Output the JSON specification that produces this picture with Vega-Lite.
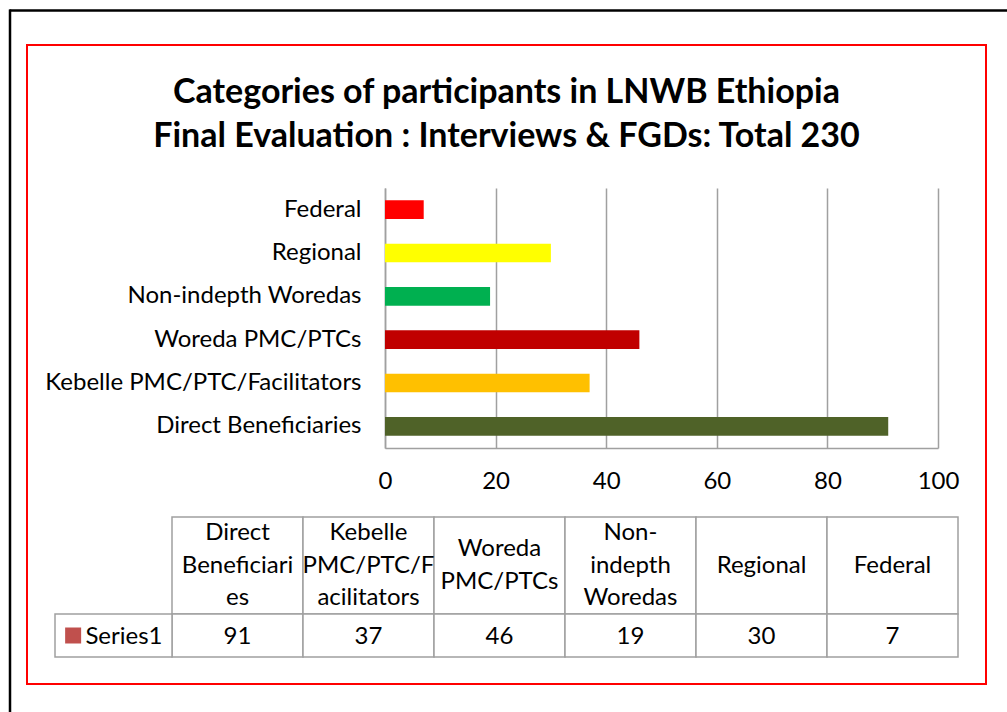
{
  "$schema": "https://vega.github.io/schema/vega-lite/v6.json",
  "width": 959,
  "height": 639,
  "autosize": "none",
  "padding": {"left": 27, "top": 45, "right": 21, "bottom": 28},
  "background": "white",
  "config": {
    "view": {"stroke": "#FF0000", "strokeWidth": 2},
    "font": "Lato",
    "axis": {"labelFont": "Lato"},
    "text": {"font": "Lato"}
  },
  "title": {
    "text": ["Categories of participants in LNWB Ethiopia", "Final Evaluation : Interviews & FGDs: Total 230"],
    "anchor": "middle",
    "frame": "group",
    "font": "Lato",
    "fontSize": 34,
    "fontWeight": "bold",
    "color": "#000000",
    "lineHeight": 44,
    "baseline": "top",
    "offset": -148
  },
  "datasets": {
    "cats": [
      {"category": "Direct Beneficiaries", "header": "Direct\nBeneficiari\nes", "value": 91},
      {"category": "Kebelle PMC/PTC/Facilitators", "header": "Kebelle\nPMC/PTC/F\nacilitators", "value": 37},
      {"category": "Woreda PMC/PTCs", "header": "Woreda\nPMC/PTCs", "value": 46},
      {"category": "Non-indepth Woredas", "header": "Non-\nindepth\nWoredas", "value": 19},
      {"category": "Regional", "header": "Regional", "value": 30},
      {"category": "Federal", "header": "Federal", "value": 7}
    ],
    "legend": [
      {"series": "Series1"}
    ]
  },
  "layer": [
    {
      "data": {"name": "legend"},
      "mark": {"type": "point", "opacity": 0},
      "encoding": {
        "x": {
          "datum": 0,
          "type": "quantitative",
          "scale": {"domain": [0, 1], "range": [-18, 995], "nice": false, "zero": false},
          "axis": {"orient": "top", "offset": 35, "domainColor": "#000000", "domainWidth": 2.5, "labels": false, "ticks": false, "grid": false, "title": null}
        },
        "y": {
          "datum": 0,
          "type": "quantitative",
          "scale": {"domain": [0, 1], "range": [-36, 680], "nice": false, "zero": false},
          "axis": {"orient": "left", "offset": 17.5, "domainColor": "#000000", "domainWidth": 2.5, "labels": false, "ticks": false, "grid": false, "title": null}
        }
      }
    },
    {
      "data": {"name": "cats"},
      "mark": {"type": "bar"},
      "encoding": {
        "y": {
          "field": "category",
          "type": "nominal",
          "scale": {
            "domain": ["Federal", "Regional", "Non-indepth Woredas", "Woreda PMC/PTCs", "Kebelle PMC/PTC/Facilitators", "Direct Beneficiaries"],
            "range": [143, 403],
            "paddingInner": 0.57,
            "paddingOuter": 0.285
          },
          "axis": {
            "orient": "left",
            "offset": -358,
            "title": null,
            "grid": false,
            "ticks": false,
            "domainColor": "#A0A0A0",
            "domainWidth": 1.5,
            "labelPadding": 24,
            "labelFontSize": 24,
            "labelColor": "#000000",
            "labelLimit": 0
          }
        },
        "x": {
          "field": "value",
          "type": "quantitative",
          "scale": {"domain": [0, 100], "range": [358, 911], "nice": false},
          "axis": {
            "orient": "top",
            "offset": -403,
            "values": [0, 20, 40, 60, 80, 100],
            "title": null,
            "grid": true,
            "gridColor": "#A0A0A0",
            "gridWidth": 1.5,
            "ticks": false,
            "domainColor": "#A0A0A0",
            "domainWidth": 1.5,
            "labelPadding": -33,
            "labelBaseline": "middle",
            "labelFontSize": 24,
            "labelColor": "#000000",
            "labelFlush": false
          }
        },
        "color": {
          "field": "category",
          "type": "nominal",
          "scale": {
            "domain": ["Federal", "Regional", "Non-indepth Woredas", "Woreda PMC/PTCs", "Kebelle PMC/PTC/Facilitators", "Direct Beneficiaries"],
            "range": ["#FF0000", "#FFFF00", "#00B050", "#C00000", "#FFC000", "#4F6228"]
          },
          "legend": null
        }
      }
    },
    {
      "data": {"name": "cats"},
      "encoding": {
        "x": {
          "field": "category",
          "type": "nominal",
          "scale": {
            "domain": ["Direct Beneficiaries", "Kebelle PMC/PTC/Facilitators", "Woreda PMC/PTCs", "Non-indepth Woredas", "Regional", "Federal"],
            "range": [145, 931],
            "paddingInner": 0,
            "paddingOuter": 0
          },
          "axis": null
        },
        "y": {
          "datum": "header",
          "type": "nominal",
          "scale": {"domain": ["header"], "range": [472, 569], "paddingInner": 0, "paddingOuter": 0},
          "axis": null
        }
      },
      "layer": [
        {"mark": {"type": "rect", "fill": "white", "stroke": "#A0A0A0", "strokeWidth": 1.5}},
        {
          "mark": {
            "type": "text",
            "lineBreak": "\n",
            "fontSize": 24,
            "lineHeight": 32.5,
            "color": "#000000",
            "align": "center",
            "baseline": "middle",
            "dy": {"expr": "-(length(split(datum.header, '\\n')) - 1) * 16.25"}
          },
          "encoding": {"text": {"field": "header"}}
        }
      ]
    },
    {
      "data": {"name": "cats"},
      "encoding": {
        "x": {
          "field": "category",
          "type": "nominal",
          "scale": {
            "domain": ["Direct Beneficiaries", "Kebelle PMC/PTC/Facilitators", "Woreda PMC/PTCs", "Non-indepth Woredas", "Regional", "Federal"],
            "range": [145, 931],
            "paddingInner": 0,
            "paddingOuter": 0
          },
          "axis": null
        },
        "y": {
          "datum": "row",
          "type": "nominal",
          "scale": {"domain": ["row"], "range": [569, 612], "paddingInner": 0, "paddingOuter": 0},
          "axis": null
        }
      },
      "layer": [
        {"mark": {"type": "rect", "fill": "white", "stroke": "#A0A0A0", "strokeWidth": 1.5}},
        {
          "mark": {"type": "text", "fontSize": 24, "color": "#000000", "align": "center", "baseline": "middle", "dy": 1},
          "encoding": {"text": {"field": "value", "type": "quantitative"}}
        }
      ]
    },
    {
      "data": {"name": "legend"},
      "encoding": {
        "y": {
          "datum": "row",
          "type": "nominal",
          "scale": {"domain": ["row"], "range": [569, 612], "paddingInner": 0, "paddingOuter": 0},
          "axis": null
        }
      },
      "layer": [
        {
          "mark": {"type": "rect", "fill": "white", "stroke": "#A0A0A0", "strokeWidth": 1.5},
          "encoding": {
            "x": {"field": "series", "type": "nominal", "scale": {"domain": ["Series1"], "range": [28, 145], "paddingInner": 0, "paddingOuter": 0}, "axis": null}
          }
        },
        {
          "mark": {"type": "square", "size": 256, "filled": true, "color": "#C0504D", "opacity": 1},
          "encoding": {
            "x": {"field": "series", "type": "nominal", "bandPosition": 0.155, "scale": {"domain": ["Series1"], "range": [28, 145], "paddingInner": 0, "paddingOuter": 0}, "axis": null}
          }
        },
        {
          "mark": {"type": "text", "fontSize": 24, "color": "#000000", "align": "left", "baseline": "middle", "dy": 1},
          "encoding": {
            "x": {"field": "series", "type": "nominal", "bandPosition": 0.26, "scale": {"domain": ["Series1"], "range": [28, 145], "paddingInner": 0, "paddingOuter": 0}, "axis": null},
            "text": {"field": "series"}
          }
        }
      ]
    }
  ],
  "resolve": {"scale": {"x": "independent", "y": "independent", "color": "independent"}}
}
